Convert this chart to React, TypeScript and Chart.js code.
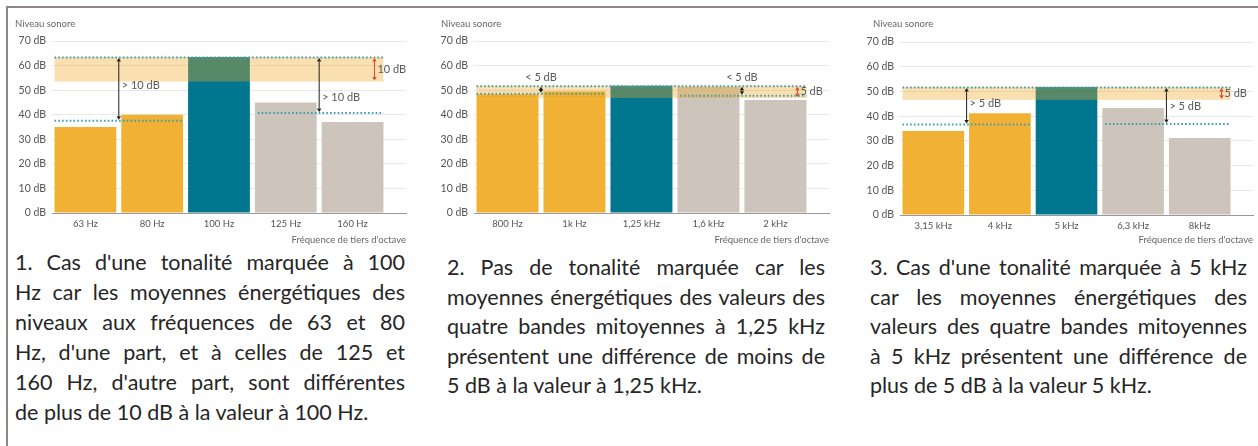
import React, { useEffect, useRef } from 'react';
import { Chart, registerables } from 'chart.js';

Chart.register(...registerables);
Chart.defaults.font.family = 'Lato, "Open Sans", sans-serif';

// ---- 1. Tonalité marquée à 100 Hz ----
const bands1 = ['63 Hz', '80 Hz', '100 Hz', '125 Hz', '160 Hz'];
const levels1 = [35, 40, 63.5, 45, 37];
const tonalBand1 = [53.5, 63.5];
const neighbourMeans1 = [37.5, 40.7];
const notes1 = ['> 10 dB', '> 10 dB', '10 dB'];
const caption1 = [
  "1. Cas d'une tonalité marquée à 100",
  'Hz car les moyennes énergétiques des',
  'niveaux aux fréquences de 63 et 80',
  "Hz, d'une part, et à celles de 125 et",
  "160 Hz, d'autre part, sont différentes",
  'de plus de 10 dB à la valeur à 100 Hz.',
];

// ---- 2. Pas de tonalité marquée ----
const bands2 = ['800 Hz', '1k Hz', '1,25 kHz', '1,6 kHz', '2 kHz'];
const levels2 = [48.3, 49.4, 51.8, 51.3, 46];
const tonalBand2 = [46.8, 51.8];
const neighbourMeans2 = [48.5, 47.7];
const notes2 = ['< 5 dB', '< 5 dB', '5 dB'];
const caption2 = [
  '2. Pas de tonalité marquée car les',
  'moyennes énergétiques des valeurs des',
  'quatre bandes mitoyennes à 1,25 kHz',
  'présentent une différence de moins de',
  '5 dB à la valeur à 1,25 kHz.',
];

// ---- 3. Tonalité marquée à 5 kHz ----
const bands3 = ['3,15 kHz', '4 kHz', '5 kHz', '6,3 kHz', '8kHz'];
const levels3 = [34, 41.2, 51.8, 43.3, 31.2];
const tonalBand3 = [46.6, 51.8];
const neighbourMeans3 = [36.6, 36.8];
const notes3 = ['> 5 dB', '> 5 dB', '5 dB'];
const caption3 = [
  "3. Cas d'une tonalité marquée à 5 kHz",
  'car les moyennes énergétiques des',
  'valeurs des quatre bandes mitoyennes',
  'à 5 kHz présentent une différence de',
  'plus de 5 dB à la valeur 5 kHz.',
];

const yTickValues = [0, 10, 20, 30, 40, 50, 60, 70];
const yAxisTitle = 'Niveau sonore';
const xAxisTitle = "Fréquence de tiers d'octave";

// colours
const ORANGE = '#f0b134';
const TEAL = '#00778f';
const GREY = '#cdc4bb';
const BAND = 'rgba(240,170,40,0.36)';
const DOTS = '#3d9fb0';
const RED = '#e5432b';
const INK = '#5a5a5a';

type Layout = {
  plotLeft: number; plotRight: number; plotTop: number; plotBottom: number;
  titleX: number; textLeft: number; textRight: number; textTop: number; lineH: number;
  notesAbove: boolean; noteLevels: number[];
};

type Spec = {
  bands: string[]; levels: number[]; band: number[]; means: number[]; notes: string[];
  caption: string[]; layout: Layout;
};

const panels: Spec[] = [
  {
    bands: bands1, levels: levels1, band: tonalBand1, means: neighbourMeans1, notes: notes1, caption: caption1,
    layout: { plotLeft: 52, plotRight: 406, plotTop: 41, plotBottom: 213, titleX: 15, textLeft: 15, textRight: 405, textTop: 247, lineH: 30, notesAbove: false, noteLevels: [52, 47] },
  },
  {
    bands: bands2, levels: levels2, band: tonalBand2, means: neighbourMeans2, notes: notes2, caption: caption2,
    layout: { plotLeft: 474, plotRight: 829, plotTop: 41, plotBottom: 213, titleX: 441, textLeft: 447, textRight: 825, textTop: 253, lineH: 29.5, notesAbove: true, noteLevels: [55.3, 55.3] },
  },
  {
    bands: bands3, levels: levels3, band: tonalBand3, means: neighbourMeans3, notes: notes3, caption: caption3,
    layout: { plotLeft: 900, plotRight: 1253, plotTop: 42, plotBottom: 215, titleX: 873, textLeft: 870, textRight: 1247, textTop: 253, lineH: 29.5, notesAbove: false, noteLevels: [45, 44] },
  },
];

const CANVAS_TOP = 10;
const CANVAS_H = 236;
const Y_AXIS_W = 42;

function barColour(i: number) {
  if (i < 2) return ORANGE;
  if (i === 2) return TEAL;
  return GREY;
}

function dotted(ctx: CanvasRenderingContext2D, x0: number, x1: number, y: number) {
  ctx.save();
  ctx.strokeStyle = DOTS;
  ctx.lineWidth = 2;
  ctx.setLineDash([1.6, 2.2]);
  ctx.beginPath();
  ctx.moveTo(x0, y);
  ctx.lineTo(x1, y);
  ctx.stroke();
  ctx.restore();
}

function arrow(ctx: CanvasRenderingContext2D, x: number, yTop: number, yBot: number, colour: string) {
  const h = 3.5;
  const w = 2.2;
  ctx.save();
  ctx.strokeStyle = colour;
  ctx.fillStyle = colour;
  ctx.lineWidth = 1;
  ctx.beginPath();
  ctx.moveTo(x, yTop + h);
  ctx.lineTo(x, yBot - h);
  ctx.stroke();
  ctx.beginPath();
  ctx.moveTo(x, yTop);
  ctx.lineTo(x - w, yTop + h);
  ctx.lineTo(x + w, yTop + h);
  ctx.closePath();
  ctx.fill();
  ctx.beginPath();
  ctx.moveTo(x, yBot);
  ctx.lineTo(x - w, yBot - h);
  ctx.lineTo(x + w, yBot - h);
  ctx.closePath();
  ctx.fill();
  ctx.restore();
}

function SpectrumPanel({ spec }: { spec: Spec }) {
  const ref = useRef<HTMLCanvasElement>(null);
  const L = spec.layout;
  const canvasLeft = L.plotLeft - Y_AXIS_W;
  const canvasW = Math.min(L.plotRight + 5, 1258) - canvasLeft;
  const rightPad = canvasW - (L.plotRight - canvasLeft);

  useEffect(() => {
    if (!ref.current) return;

    const overlay = {
      id: 'tonalOverlay',
      afterDatasetsDraw(chart: any) {
        const { ctx } = chart;
        const y = chart.scales.y;
        const bars = chart.getDatasetMeta(0).data as any[];
        const half = bars[0].width / 2;
        const left = (i: number) => bars[i].x - half;
        const right = (i: number) => bars[i].x + half;

        const yHi = y.getPixelForValue(spec.band[1]);
        const yLo = y.getPixelForValue(spec.band[0]);
        const yL = y.getPixelForValue(spec.means[0]);
        const yR = y.getPixelForValue(spec.means[1]);

        // tonal band over the bars
        ctx.save();
        ctx.fillStyle = BAND;
        ctx.fillRect(left(0), yHi, right(4) - left(0), yLo - yHi);
        ctx.restore();

        dotted(ctx, left(0), right(4), yHi + 0.5);
        dotted(ctx, left(0), right(1), yL);
        dotted(ctx, left(3) + 3, right(4), yR);

        const xa = (right(0) + left(1)) / 2;
        const xb = (right(3) + left(4)) / 2;
        arrow(ctx, xa, yHi + 1, yL - 1, '#1e1e1e');
        arrow(ctx, xb, yHi + 1, yR - 1, '#1e1e1e');
        const xr = right(4) - 9;
        arrow(ctx, xr, yHi + 1, yLo - 1, RED);

        ctx.save();
        ctx.fillStyle = INK;
        ctx.font = '11px Lato, "Open Sans", sans-serif';
        ctx.textBaseline = 'middle';
        if (L.notesAbove) {
          ctx.textAlign = 'center';
          ctx.fillText(spec.notes[0], xa, y.getPixelForValue(L.noteLevels[0]));
          ctx.fillText(spec.notes[1], xb, y.getPixelForValue(L.noteLevels[1]));
        } else {
          ctx.textAlign = 'left';
          ctx.fillText(spec.notes[0], xa + 3, y.getPixelForValue(L.noteLevels[0]));
          ctx.fillText(spec.notes[1], xb + 3, y.getPixelForValue(L.noteLevels[1]));
        }
        ctx.textAlign = 'left';
        ctx.fillText(spec.notes[2], xr + 3, (yHi + yLo) / 2);

        // vertical axis caption
        ctx.font = '9.5px Lato, "Open Sans", sans-serif';
        ctx.fillStyle = '#666';
        ctx.fillText(yAxisTitle, L.titleX - canvasLeft, 24 - CANVAS_TOP);
        ctx.restore();
      },
    };

    const chart = new Chart(ref.current, {
      type: 'bar',
      data: {
        datasets: [
          {
            data: spec.levels.map((v, i) => ({ x: i, y: v })),
            backgroundColor: spec.levels.map((_, i) => barColour(i)),
            borderWidth: 0,
            categoryPercentage: 1,
            barPercentage: 0.925,
          },
        ],
      },
      options: {
        responsive: false,
        animation: false,
        devicePixelRatio: 1,
        layout: { padding: { top: L.plotTop - CANVAS_TOP, right: rightPad, left: 0, bottom: 0 } },
        plugins: { legend: { display: false }, tooltip: { enabled: false }, title: { display: false } },
        scales: {
          x: {
            type: 'linear',
            min: -0.5,
            max: 4.8,
            offset: false,
            afterBuildTicks: (scale: any) => {
              scale.ticks = spec.bands.map((_, i) => ({ value: i }));
            },
            afterFit: (scale: any) => {
              scale.height = CANVAS_H - (L.plotBottom - CANVAS_TOP);
            },
            ticks: {
              callback: (v: any) => spec.bands[v] ?? '',
              color: '#555',
              font: { size: 9.5 },
              padding: 5,
              maxRotation: 0,
              autoSkip: false,
            },
            grid: { display: false, drawTicks: false, offset: false },
            border: { display: true, color: '#9a9a9a', width: 1 },
            title: {
              display: true,
              text: xAxisTitle,
              align: 'end',
              color: '#666',
              font: { size: 9.5 },
              padding: { top: 2, bottom: 0 },
            },
          },
          y: {
            min: 0,
            max: 70,
            afterBuildTicks: (scale: any) => {
              scale.ticks = yTickValues.map((v) => ({ value: v }));
            },
            afterFit: (scale: any) => {
              scale.width = Y_AXIS_W;
            },
            ticks: {
              callback: (v: any) => `${v} dB`,
              color: '#555',
              font: { size: 10.5 },
              padding: 6,
            },
            grid: {
              drawTicks: false,
              color: (c: any) => (c.tick && c.tick.value === 0 ? '#9a9a9a' : '#e8e8e8'),
              lineWidth: 1,
            },
            border: { display: false },
          },
        },
      },
      plugins: [overlay],
    } as any);

    return () => chart.destroy();
  }, []);

  const textW = L.textRight - L.textLeft;

  return (
    <>
      <canvas
        ref={ref}
        width={canvasW}
        height={CANVAS_H}
        style={{ position: 'absolute', left: canvasLeft, top: CANVAS_TOP, width: canvasW, height: CANVAS_H }}
      />
      <div
        style={{
          position: 'absolute',
          left: L.textLeft,
          top: L.textTop,
          width: textW,
          fontFamily: 'Lato, "Open Sans", sans-serif',
          fontSize: 21.5,
          color: '#262626',
        }}
      >
        {spec.caption.map((line, i) => {
          const last = i === spec.caption.length - 1;
          return (
            <div
              key={i}
              style={{
                height: L.lineH,
                lineHeight: `${L.lineH}px`,
                textAlign: last ? 'left' : 'justify',
                textAlignLast: last ? 'left' : 'justify',
                whiteSpace: 'nowrap',
              } as React.CSSProperties}
            >
              {line}
            </div>
          );
        })}
      </div>
    </>
  );
}

export default function App() {
  return (
    <div
      style={{
        position: 'absolute',
        left: 0,
        top: 0,
        width: 1258,
        height: 446,
        background: '#fff',
        overflow: 'hidden',
      }}
    >
      <div style={{ position: 'absolute', left: 6, top: 6, width: 1252, height: 2, background: '#8f8585' }} />
      <div style={{ position: 'absolute', left: 6, top: 6, width: 2, height: 440, background: '#8f8585' }} />
      {panels.map((p, i) => (
        <SpectrumPanel key={i} spec={p} />
      ))}
    </div>
  );
}
